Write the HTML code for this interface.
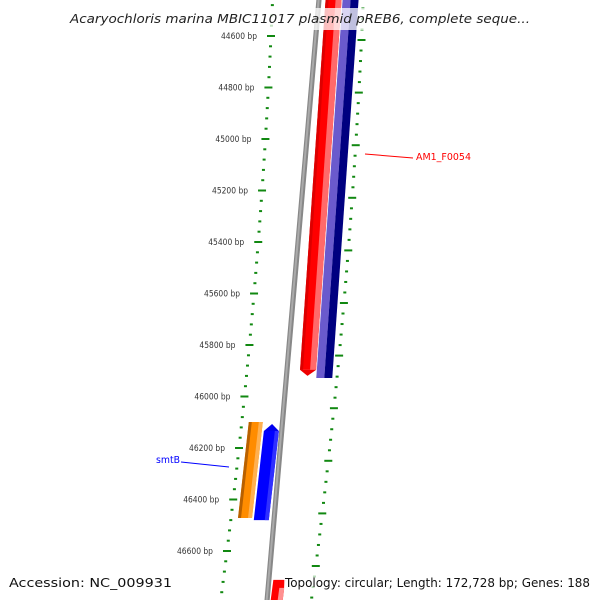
<!DOCTYPE html>
<html><head><meta charset="utf-8"><style>
html,body{margin:0;padding:0;background:#fff;width:600px;height:600px;overflow:hidden;}
svg{display:block;font-family:"DejaVu Sans","Liberation Sans",sans-serif;}
</style></head><body>
<svg id="map" width="600" height="600" viewBox="0 0 600 600" xmlns="http://www.w3.org/2000/svg" overflow="hidden">
<rect width="600" height="600" fill="#fff"/>
<g id="ticks"></g>
<g id="genes"></g>
<g id="labels"></g>
<line x1="365" y1="154" x2="413" y2="158" stroke="#ff0000" stroke-width="1"/>
<text x="416" y="160" font-size="10" fill="#ff0000" textLength="55" lengthAdjust="spacingAndGlyphs">AM1_F0054</text>
<line x1="181" y1="462" x2="229" y2="467" stroke="#0000ff" stroke-width="1"/>
<text x="156" y="463" font-size="10" fill="#0000ff" textLength="24" lengthAdjust="spacingAndGlyphs">smtB</text>
<rect x="66" y="8" width="470" height="22" fill="#fff" opacity="0.75"/>
<text x="70" y="23" font-size="12.5" font-style="italic" fill="#222" textLength="460" lengthAdjust="spacingAndGlyphs">Acaryochloris marina MBIC11017 plasmid pREB6, complete seque...</text>
<text x="9" y="587" font-size="12" fill="#111" textLength="163" lengthAdjust="spacingAndGlyphs">Accession: NC_009931</text>
<rect x="284" y="574" width="310" height="18" fill="#fff" opacity="0.7"/>
<text x="285" y="587" font-size="12" fill="#111" textLength="305" lengthAdjust="spacingAndGlyphs">Topology: circular; Length: 172,728 bp; Genes: 188</text>
</svg>
<script>
const tickLabels = ["44600 bp","44800 bp","45000 bp","45200 bp","45400 bp","45600 bp","45800 bp","46000 bp","46200 bp","46400 bp","46600 bp"];
const tickValues = [44600,44800,45000,45200,45400,45600,45800,46000,46200,46400,46600];
const geneNames = ["AM1_F0054-a","AM1_F0054-b","orange-gene","smtB","next-gene"];
const geneStarts = [44300,44300,46099,46107,46712];
const geneEnds = [45920,45928,46472,46480,47000];

const NS="http://www.w3.org/2000/svg";
function yL(bp){return 36+(bp-44600)*51.5/200;}
function yR(bp){return 40+(bp-44600)*52.6/200;}
function g(y){const d=y-36;return 0.0463*d+7.6e-5*d*d;}
function clampY(y){return Math.max(0,Math.min(600,y));}
function mk(tag,attrs,parent){const e=document.createElementNS(NS,tag);for(const k in attrs)e.setAttribute(k,attrs[k]);parent.appendChild(e);return e;}
const T=document.getElementById('ticks'),G=document.getElementById('genes'),L=document.getElementById('labels');

for(let bp=44440;bp<=46840;bp+=40){
  const major=(bp%200===0);
  const w=major?8:3;
  const y1=yL(bp), x1=271-g(y1);
  if(y1>=1&&y1<=599){
    const r1=mk('rect',{x:x1-w/2,y:y1-1,width:w,height:2,fill:'#118811'},T);
    
    
  }
  const y2=yR(bp), x2=362-g(y2)+g(40)-0.5;
  if(y2>=1&&y2<=599){
    const r2=mk('rect',{x:x2-w/2,y:y2-1,width:w,height:2,fill:'#118811'},T);
    
    
  }
}
tickValues.forEach((v,i)=>{
  const y=yL(v),x=271-g(y)-14;
  const t=mk('text',{x:x-36,y:y+3,'font-size':8.5,fill:'#333',textLength:36,lengthAdjust:'spacingAndGlyphs'},L);
  t.textContent=tickLabels[i];
  
  
});

function band(off1,off2,ya,yb,fill,name){
  ya=clampY(ya); yb=clampY(yb);
  const pts=[[off1-g(ya),ya],[off2-g(ya),ya],[off2-g(yb),yb],[off1-g(yb),yb]].map(p=>p.join(',')).join(' ');
  const p=mk('polygon',{points:pts,fill:fill},G);
  
  
  return p;
}
band(314.8,320,0,600,'#888','backbone');
band(316,318,0,600,'#aaa','backbone-highlight');

(function(){
  const ya=yL(geneStarts[0]), yb=yL(geneEnds[0]);
  const tip=yb, bodyEnd=yb-6;
  band(324,340,ya,bodyEnd,'#ff0000','gene-am1-f0054');
  band(334,340,ya,bodyEnd,'#ff6a6a','gene-am1-f0054-highlight');
  band(324,327,ya,bodyEnd,'#dd0000','gene-am1-f0054-shade');
  const pts=[[324-g(bodyEnd),bodyEnd],[340-g(bodyEnd),bodyEnd],[332-g(tip),tip]].map(p=>p.join(',')).join(' ');
  const p=mk('polygon',{points:pts,fill:'#ee0000'},G);
  
  
})();
(function(){
  const ya=yL(geneStarts[1]), yb=yL(geneEnds[1]);
  band(341,349,ya,yb,'#6a5acd','gene-am1-f0054-light');
  band(349,357,ya,yb,'#000080','gene-am1-f0054-dark');
})();
(function(){
  const ya=yL(geneStarts[2]), yb=yL(geneEnds[2]);
  band(278,292,ya,yb,'#ff8c00','gene-orange');
  band(278,281,ya,yb,'#b86000','gene-orange-shade');
  band(288,292,ya,yb,'#ffb050','gene-orange-highlight');
})();
(function(){
  const ya=yL(geneStarts[3]), yb=yL(geneEnds[3]);
  const body=ya+7;
  band(294,309,body,yb,'#0000ff','gene-smtb');
  band(305,309,body,yb,'#3030ff','gene-smtb-highlight');
  const pts=[[294-g(body),body],[309-g(body),body],[301.5-g(ya),ya]].map(p=>p.join(',')).join(' ');
  const p=mk('polygon',{points:pts,fill:'#0000ee'},G);
  
  
})();
(function(){
  const ya=yL(geneStarts[4]), yb=yL(geneEnds[4]);
  band(321,333,ya,yb,'#ff0000','gene-next');
  band(328,333,ya+8,yb,'#ff9090','gene-next-highlight');
})();
</script>
</body></html>
